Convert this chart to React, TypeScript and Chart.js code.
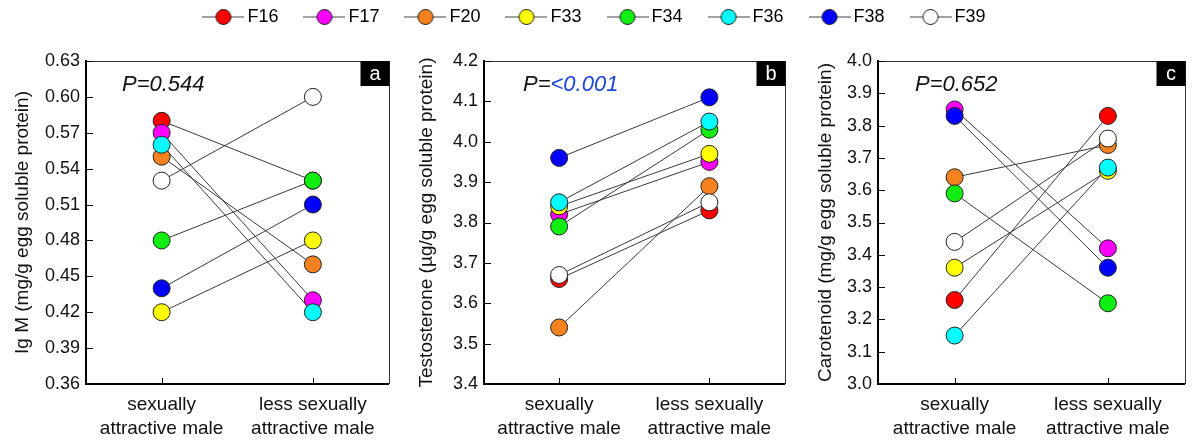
import React, { useEffect, useRef } from "react";
import { Chart, registerables } from "chart.js";

Chart.register(...registerables);

const FONT = "'Liberation Sans', Arial, Helvetica, sans-serif";

// ---------- data ----------
const femaleIds = ["F16", "F17", "F20", "F33", "F34", "F36", "F38", "F39"];
const femaleColors = ["#ff0000", "#ff00ff", "#f5821f", "#ffff00", "#11ee11", "#00ffff", "#0000ff", "#ffffff"];
const groupLabels = [
  ["sexually", "attractive male"],
  ["less sexually", "attractive male"],
];

const igmSexy = [0.58, 0.57, 0.55, 0.42, 0.48, 0.56, 0.44, 0.53];
const igmLess = [0.53, 0.43, 0.46, 0.48, 0.53, 0.42, 0.51, 0.6];
const igmTicks = [0.36, 0.39, 0.42, 0.45, 0.48, 0.51, 0.54, 0.57, 0.6, 0.63];

const testoSexy = [3.66, 3.82, 3.54, 3.84, 3.79, 3.85, 3.96, 3.67];
const testoLess = [3.83, 3.95, 3.89, 3.97, 4.03, 4.05, 4.11, 3.85];
const testoTicks = [3.4, 3.5, 3.6, 3.7, 3.8, 3.9, 4.0, 4.1, 4.2];

const caroSexy = [3.26, 3.85, 3.64, 3.36, 3.59, 3.15, 3.83, 3.44];
const caroLess = [3.83, 3.42, 3.74, 3.66, 3.25, 3.67, 3.36, 3.76];
const caroTicks = [3.0, 3.1, 3.2, 3.3, 3.4, 3.5, 3.6, 3.7, 3.8, 3.9, 4.0];

const panelTitles = [
  "Ig M (mg/g egg soluble protein)",
  "Testosterone (µg/g egg soluble protein)",
  "Carotenoid (mg/g egg soluble protein)",
];
const panelLetters = ["a", "b", "c"];
const pPrefixes = ["P=", "P=", "P="];
const pValues = ["0.544", "<0.001", "0.652"];
const pValueColors = ["#111111", "#1d45e0", "#111111"];
const tickDecimals = [2, 1, 1];

// ---------- layout ----------
type Layout = { left: number; width: number; axisWidth: number; rightPad: number; titlePad: number; pX: number };
const layouts: Layout[] = [
  { left: 0, width: 398, axisWidth: 86, rightPad: 6, titlePad: 11, pX: 36 },
  { left: 398, width: 396, axisWidth: 86, rightPad: 2, titlePad: 17, pX: 39 },
  { left: 794, width: 400, axisWidth: 84, rightPad: 6, titlePad: 20, pX: 37 },
];

type PanelData = { sexy: number[]; less: number[]; ticks: number[] };
const panelData: PanelData[] = [
  { sexy: igmSexy, less: igmLess, ticks: igmTicks },
  { sexy: testoSexy, less: testoLess, ticks: testoTicks },
  { sexy: caroSexy, less: caroLess, ticks: caroTicks },
];

function makeDecoPlugin(idx: number) {
  return {
    id: "panelDeco" + idx,
    afterDraw(chart: any) {
      const { ctx, chartArea, scales } = chart;
      const { left, right, top, bottom } = chartArea;
      ctx.save();
      // top & right frame
      ctx.strokeStyle = "#333";
      ctx.lineWidth = 1;
      ctx.beginPath();
      ctx.moveTo(left, Math.round(top) + 0.5);
      ctx.lineTo(Math.round(right) + 0.5, Math.round(top) + 0.5);
      ctx.lineTo(Math.round(right) + 0.5, bottom);
      ctx.stroke();
      // inward ticks
      ctx.strokeStyle = "#000";
      ctx.beginPath();
      scales.y.ticks.forEach((t: any) => {
        const y = Math.round(scales.y.getPixelForValue(t.value)) + 0.5;
        ctx.moveTo(left, y);
        ctx.lineTo(left + 7, y);
      });
      scales.x.ticks.forEach((t: any) => {
        const x = Math.round(scales.x.getPixelForValue(t.value)) + 0.5;
        ctx.moveTo(x, bottom);
        ctx.lineTo(x, bottom - 6);
      });
      ctx.stroke();
      // letter box
      const bw = 29;
      const bh = 25;
      ctx.fillStyle = "#000";
      ctx.fillRect(right - bw + 1, top, bw, bh);
      ctx.fillStyle = "#fff";
      ctx.font = `20px ${FONT}`;
      ctx.textAlign = "center";
      ctx.textBaseline = "middle";
      ctx.fillText(panelLetters[idx], right - bw / 2 + 1, top + bh / 2 + 1);
      // P value
      ctx.font = `italic 22px ${FONT}`;
      ctx.textAlign = "left";
      const px = left + layouts[idx].pX;
      const py = top + 24;
      ctx.fillStyle = "#111";
      ctx.fillText(pPrefixes[idx], px, py);
      const w = ctx.measureText(pPrefixes[idx]).width;
      ctx.fillStyle = pValueColors[idx];
      ctx.fillText(pValues[idx], px + w, py);
      ctx.restore();
    },
  };
}

function Panel({ idx }: { idx: number }) {
  const ref = useRef<HTMLCanvasElement>(null);
  const lay = layouts[idx];
  useEffect(() => {
    const pd = panelData[idx];
    const datasets: any[] = [];
    femaleIds.forEach((id, i) => {
      const pts = [
        { x: 0, y: pd.sexy[i] },
        { x: 1, y: pd.less[i] },
      ];
      datasets.push({
        label: id + " line",
        data: pts,
        showLine: true,
        borderColor: "#3a3a3a",
        borderWidth: 1,
        pointRadius: 0,
        pointHoverRadius: 0,
        fill: false,
        order: 20,
      });
      datasets.push({
        label: id,
        data: pts,
        showLine: false,
        pointRadius: 8.5,
        pointHoverRadius: 8.5,
        pointBackgroundColor: femaleColors[i],
        pointBorderColor: "#222",
        pointBorderWidth: 1,
        order: 10 - i,
      });
    });
    const chart = new Chart(ref.current as HTMLCanvasElement, {
      type: "scatter",
      data: { datasets },
      options: {
        animation: false,
        responsive: false,
        events: [],
        layout: { padding: { top: 21, left: 0, right: lay.rightPad, bottom: 0 } },
        plugins: { legend: { display: false }, tooltip: { enabled: false } },
        scales: {
          x: {
            type: "linear",
            min: -0.5,
            max: 1.5,
            afterBuildTicks: (s: any) => {
              s.ticks = [{ value: 0 }, { value: 1 }];
            },
            afterFit: (s: any) => {
              s.height = 56;
            },
            grid: { display: true, drawOnChartArea: false, drawTicks: false },
            border: { display: true, width: 2, color: "#000" },
            ticks: {
              padding: 9,
              color: "#111",
              font: { size: 19, family: FONT, lineHeight: 1.27 },
              maxRotation: 0,
              autoSkip: false,
              callback: (_v: any, i: number) => groupLabels[i],
            },
          },
          y: {
            type: "linear",
            min: pd.ticks[0],
            max: pd.ticks[pd.ticks.length - 1],
            afterBuildTicks: (s: any) => {
              s.ticks = pd.ticks.map((v) => ({ value: v }));
            },
            afterFit: (s: any) => {
              s.width = lay.axisWidth;
            },
            grid: { display: true, drawOnChartArea: false, drawTicks: false },
            border: { display: true, width: 2, color: "#000" },
            ticks: {
              padding: 6,
              color: "#111",
              font: { size: 18, family: FONT },
              autoSkip: false,
              callback: (v: any) => Number(v).toFixed(tickDecimals[idx]),
            },
            title: {
              display: true,
              text: panelTitles[idx],
              color: "#111",
              font: { size: 19, family: FONT, lineHeight: 1.2 },
              padding: { top: lay.titlePad, bottom: 0 },
            },
          },
        },
      } as any,
      plugins: [makeDecoPlugin(idx)],
    });
    return () => chart.destroy();
  }, []);
  return (
    <canvas
      ref={ref}
      width={lay.width}
      height={400}
      style={{ position: "absolute", left: lay.left, top: 40, width: lay.width, height: 400, display: "block" }}
    />
  );
}

function makeMarker(color: string): HTMLCanvasElement {
  const c = document.createElement("canvas");
  c.width = 42;
  c.height = 18;
  const ctx = c.getContext("2d") as CanvasRenderingContext2D;
  ctx.strokeStyle = "#444";
  ctx.lineWidth = 1.2;
  ctx.beginPath();
  ctx.moveTo(0, 9);
  ctx.lineTo(42, 9);
  ctx.stroke();
  ctx.beginPath();
  ctx.arc(21, 9, 7.5, 0, Math.PI * 2);
  ctx.fillStyle = color;
  ctx.fill();
  ctx.strokeStyle = "#222";
  ctx.lineWidth = 1;
  ctx.stroke();
  return c;
}

function LegendChart() {
  const ref = useRef<HTMLCanvasElement>(null);
  useEffect(() => {
    const markers = femaleColors.map(makeMarker);
    const chart = new Chart(ref.current as HTMLCanvasElement, {
      type: "line",
      data: {
        datasets: femaleIds.map((id, i) => ({
          label: id,
          data: [],
          borderColor: "#444",
          backgroundColor: femaleColors[i],
        })),
      },
      options: {
        animation: false,
        responsive: false,
        events: [],
        layout: { padding: 0 },
        scales: { x: { display: false }, y: { display: false } },
        plugins: {
          tooltip: { enabled: false },
          legend: {
            display: true,
            position: "top",
            maxHeight: 100,
            labels: {
              usePointStyle: true,
              pointStyleWidth: 30,
              padding: 31,
              color: "#111",
              font: { size: 18, family: FONT },
              generateLabels: () =>
                femaleIds.map((id, i) => ({
                  text: id,
                  pointStyle: markers[i],
                  fillStyle: femaleColors[i],
                  strokeStyle: "#222",
                  lineWidth: 0,
                  hidden: false,
                  datasetIndex: i,
                })),
            },
          },
        },
      } as any,
    });
    return () => chart.destroy();
  }, []);
  return (
    <canvas
      ref={ref}
      width={1194}
      height={200}
      style={{ position: "absolute", left: 0, top: -23, width: 1194, height: 200, display: "block" }}
    />
  );
}

export default function App() {
  return (
    <div
      style={{
        position: "fixed",
        left: 0,
        top: 0,
        width: 1194,
        height: 440,
        background: "#fff",
        overflow: "hidden",
      }}
    >
      <LegendChart />
      <Panel idx={0} />
      <Panel idx={1} />
      <Panel idx={2} />
    </div>
  );
}
